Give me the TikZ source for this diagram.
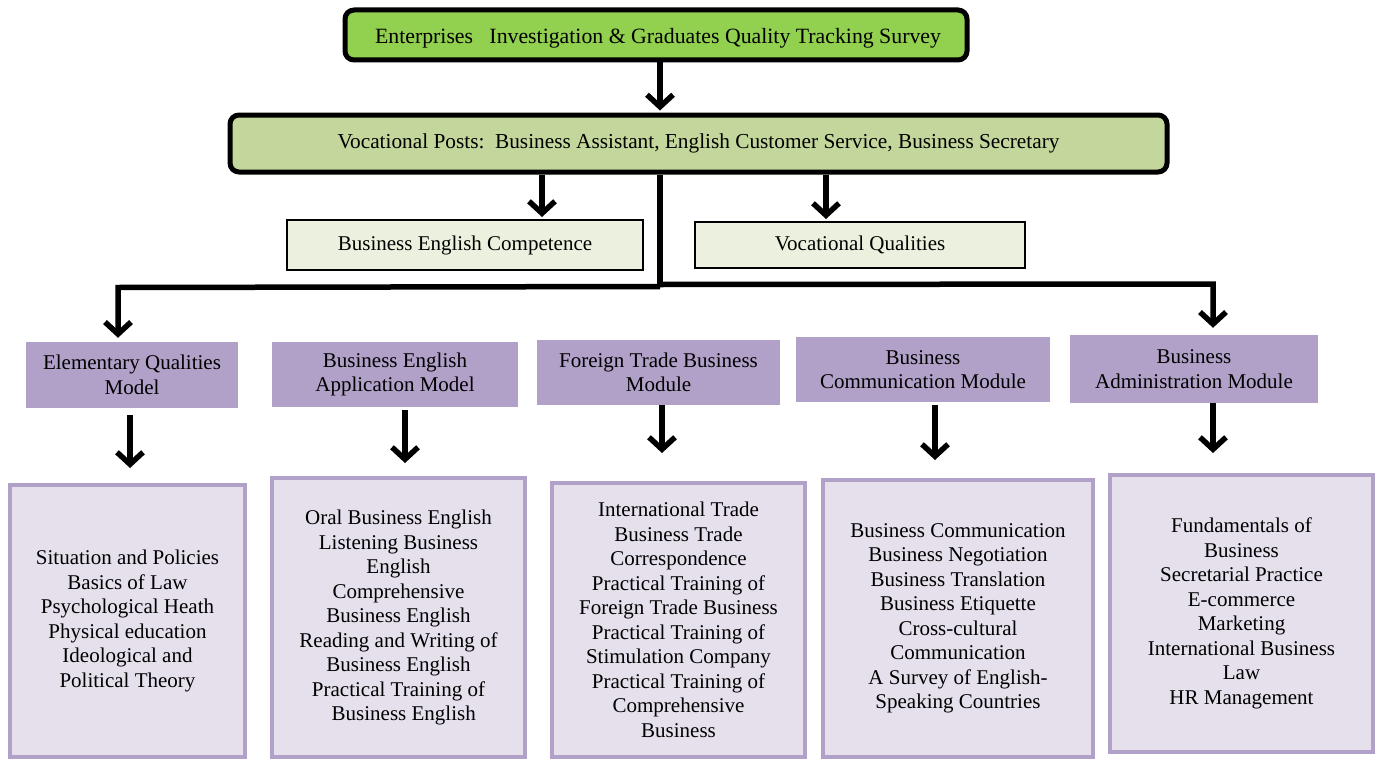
\documentclass[tikz,border=0pt]{standalone}
\usepackage{fontspec}
\setmainfont{LiberationSerif}[Extension=.ttf, UprightFont=*-Regular, BoldFont=*-Bold]
\usetikzlibrary{arrows.meta}
\definecolor{topgreen}{HTML}{92D050}
\definecolor{postgreen}{HTML}{C3D69B}
\definecolor{palegreen}{HTML}{EBF1DE}
\definecolor{modpurple}{HTML}{B1A0C7}
\definecolor{coursefill}{HTML}{E5E0EC}
\begin{document}
\begin{tikzpicture}[x=1pt,y=1pt,
  txt/.style={inner sep=0pt, align=center, font=\fontsize{21}{24.5}\selectfont},
  headbox/.style={txt, draw=black, line width=5pt, rounded corners=9pt},
  compbox/.style={txt, draw=black, line width=2pt, fill=palegreen},
  modbox/.style={txt, fill=modpurple},
  coursebox/.style={txt, draw=modpurple, line width=4pt, fill=coursefill},
  conn/.style={line width=5.5pt, line join=miter},
  arr/.style={conn, -{Straight Barb[length=12pt,width=26pt]}}]
\useasboundingbox (0,0) rectangle (1378,-760);
\fill[white] (0,0) rectangle (1378,-760);

% top level
\node[headbox, fill=topgreen, minimum width=622, minimum height=50] (top) at (656,-35) {};
\node[txt, font=\fontsize{21.8}{25}\selectfont] (toptext) at ([xshift=2pt,yshift=-3pt]top.center)
  {Enterprises\ \ \ Investigation \& Graduates Quality Tracking Survey};
\node[headbox, fill=postgreen, minimum width=937, minimum height=57,
  font=\fontsize{21.3}{25}\selectfont] (post) at (698.5,-143.5)
  {Vocational Posts:\ \ Business Assistant, English Customer Service, Business Secretary};

% competence boxes
\node[compbox, minimum width=356, minimum height=50] (bec) at (465,-245) {Business English Competence};
\node[compbox, minimum width=330, minimum height=46] (vq) at (860,-245) {Vocational Qualities};

% modules
\node[modbox, minimum width=212, minimum height=66] (m1) at (132,-375) {Elementary Qualities\\Model};
\node[modbox, minimum width=246, minimum height=65] (m2) at (395,-374.5) {Business English\\Application Model};
\node[modbox, minimum width=243, minimum height=65] (m3) at (658.5,-372.5) {Foreign Trade Business\\Module};
\node[modbox, minimum width=254, minimum height=65] (m4) at (923,-369.5) {Business\\Communication Module};
\node[modbox, minimum width=248, minimum height=68] (m5) at (1194,-369) {Business\\Administration Module};

% course boxes
\node[coursebox, minimum width=235, minimum height=272] (c1) at (127.5,-621)
  {Situation and Policies\\Basics of Law\\Psychological Heath\\Physical education\\Ideological and\\Political Theory};
\node[coursebox, minimum width=253, minimum height=279] (c2) at (398.5,-617.5)
  {Oral Business English\\Listening Business\\English\\Comprehensive\\Business English\\Reading and Writing of\\Business English\\Practical Training of\\\ \ Business English};
\node[coursebox, minimum width=253, minimum height=274] (c3) at (678.5,-620)
  {International Trade\\Business Trade\\Correspondence\\Practical Training of\\Foreign Trade Business\\Practical Training of\\Stimulation Company\\Practical Training of\\Comprehensive\\Business};
\node[coursebox, minimum width=270, minimum height=277] (c4) at (958,-618.5)
  {Business Communication\\Business Negotiation\\Business Translation\\Business Etiquette\\Cross-cultural\\Communication\\A Survey of English-\\Speaking Countries};
\node[coursebox, minimum width=263, minimum height=277] (c5) at (1241.5,-613.5)
  {Fundamentals of\\Business\\Secretarial Practice\\E-commerce\\Marketing\\International Business\\Law\\HR Management};

% connectors
\draw[arr, shorten >=2pt] ([xshift=4pt]top.south) -- ([xshift=4pt]top.south |- post.north);
\draw[arr, shorten >=2pt] ([xshift=77pt]bec.north |- post.south) -- ([xshift=77pt]bec.north);
\draw[arr, shorten >=2pt] ([xshift=-34pt]vq.north |- post.south) -- ([xshift=-34pt]vq.north);

\coordinate (hub) at (660,-286);
\coordinate (hubL) at (660,-286.5);
\coordinate (hubR) at (660,-284.5);
\draw[conn] (hub |- post.south) -- (hub);
\draw[arr, shorten >=4pt] (hubL) -- ([xshift=-14pt,yshift=-1.5pt]m1.north |- hub) -- ([xshift=-14pt]m1.north);
\draw[arr, shorten >=7pt] (hubR) -- ([xshift=19pt,yshift=2pt]m5.north |- hub) -- ([xshift=19pt]m5.north);

\draw[arr, shorten <=7pt, shorten >=15pt] ([xshift=-2pt]m1.south) -- ([xshift=-2pt]m1.south |- c1.north);
\draw[arr, shorten <=3pt, shorten >=13pt] ([xshift=10pt]m2.south) -- ([xshift=10pt]m2.south |- c2.north);
\draw[arr, shorten >=28pt] ([xshift=3.5pt]m3.south) -- ([xshift=3.5pt]m3.south |- c3.north);
\draw[arr, shorten <=3pt, shorten >=18pt] ([xshift=12pt]m4.south) -- ([xshift=12pt]m4.south |- c4.north);
\draw[arr, shorten >=20pt] ([xshift=19pt]m5.south) -- ([xshift=19pt]m5.south |- c5.north);
\end{tikzpicture}
\end{document}
